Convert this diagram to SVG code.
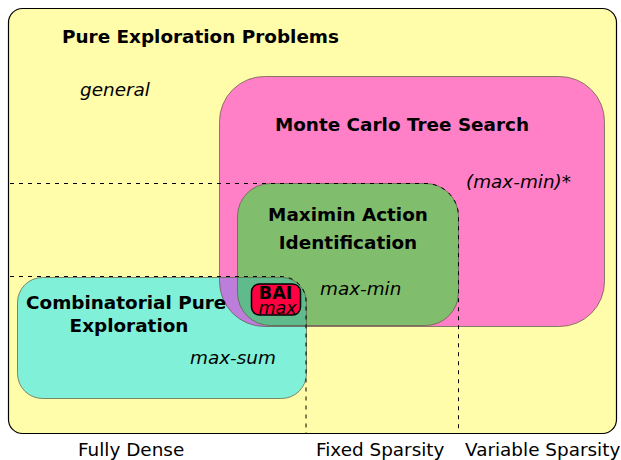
<svg xmlns="http://www.w3.org/2000/svg" width="621" height="460" viewBox="0 0 621 460">
<style>
text{font-family:"DejaVu Sans","Liberation Sans",sans-serif;font-size:18.4px;fill:#000}
.b{font-weight:bold}
.i{font-style:italic}
.m{text-anchor:middle}
.s{font-size:17.5px}
.edge{fill:none;stroke:#5a5a40;stroke-opacity:0.7;stroke-width:1}
.dash{fill:none;stroke:#000;stroke-width:1;stroke-dasharray:4,5}
</style>
<defs>
<rect id="pinkShape" x="219.5" y="76.5" width="385" height="250" rx="45"/>
<rect id="greenShape" x="237.5" y="183.5" width="221" height="142" rx="33"/>
<rect id="cyanShape" x="17.5" y="277.5" width="289" height="121" rx="25"/>
<clipPath id="cyanClip"><use href="#cyanShape"/></clipPath>
</defs>
<g id="pure-exploration">
<rect x="8.5" y="8.5" width="608" height="425" rx="14" fill="#fffcaa" stroke="#000" stroke-width="1.2"/>
<text class="b" x="62" y="43">Pure Exploration Problems</text>
<text class="i" x="80" y="96">general</text>
</g>
<g id="mcts">
<use href="#pinkShape" fill="#ff80c6"/>
</g>
<g id="cpe">
<use href="#cyanShape" fill="#80f0d8"/>
<use href="#pinkShape" fill="#bd7ddb" clip-path="url(#cyanClip)"/>
</g>
<g id="maximin">
<use href="#greenShape" fill="#80be6e"/>
<use href="#greenShape" fill="#5fba8c" clip-path="url(#cyanClip)"/>
</g>
<g id="outlines">
<use href="#pinkShape" class="edge"/>
<use href="#cyanShape" class="edge"/>
<use href="#greenShape" class="edge"/>
</g>
<g id="connectors">
<path class="dash" d="M10 183.5 H426 A33 33 0 0 1 458.5 216 V434"/>
<path class="dash" d="M10 276.5 H281 A25 25 0 0 1 306 301.5 V434"/>
</g>
<g id="mcts-labels">
<text class="b m" x="402" y="131">Monte Carlo Tree Search</text>
<text class="i" x="466" y="188">(max-min)*</text>
</g>
<g id="maximin-labels">
<text class="b m" x="348" y="221">Maximin Action</text>
<text class="b m" x="348" y="249">Identification</text>
<text class="i" x="320" y="295">max-min</text>
</g>
<g id="cpe-labels">
<text class="b" x="26" y="309">Combinatorial Pure</text>
<text class="b m" x="129" y="332">Exploration</text>
<text class="i" x="190" y="364">max-sum</text>
</g>
<g id="bai">
<rect x="251.5" y="284" width="49" height="31" rx="8" fill="#ff0040" stroke="#000" stroke-width="1.5"/>
<text class="b m s" x="275.5" y="298.5">BAI</text>
<text class="i m s" x="277.5" y="313.5">max</text>
</g>
<g id="axis-labels">
<text x="78" y="456">Fully Dense</text>
<text x="316" y="456">Fixed Sparsity</text>
<text x="465" y="456">Variable Sparsity</text>
</g>
</svg>
